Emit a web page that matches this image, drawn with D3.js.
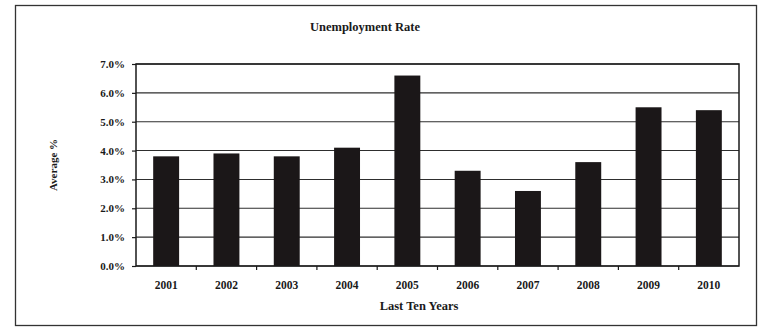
<!DOCTYPE html>
<html>
<head>
<meta charset="utf-8">
<script src="https://cdn.jsdelivr.net/npm/d3@7/dist/d3.min.js"></script>
<style>
  html, body { margin: 0; padding: 0; background: #fff; }
  svg { display: block; }
  text { font-family: "Liberation Serif", "Times New Roman", serif; font-weight: bold; fill: #1a1a1a; }
</style>
</head>
<body>
<svg id="chart" width="760" height="328"></svg>
<script>
// Annual unemployment rate, in percent
const years = ["2001", "2002", "2003", "2004", "2005", "2006", "2007", "2008", "2009", "2010"];
const rates = [3.8, 3.9, 3.8, 4.1, 6.6, 3.3, 2.6, 3.6, 5.5, 5.4];
const yTicks = [0, 1, 2, 3, 4, 5, 6, 7];

const title = "Unemployment Rate";
const xTitle = "Last Ten Years";
const yTitle = "Average %";

const svg = d3.select("#chart");
const plot = { left: 136, right: 739, top: 64, bottom: 266 };

// outer frame
svg.append("rect")
  .attr("x", 15.5).attr("y", 5.5)
  .attr("width", 741).attr("height", 320)
  .attr("fill", "#fff")
  .attr("stroke", "#333").attr("stroke-width", 1.3);

const x = d3.scaleBand()
  .domain(years)
  .range([plot.left, plot.right])
  .paddingInner(0.57)
  .paddingOuter(0.285);

const y = d3.scaleLinear()
  .domain([0, 7])
  .range([plot.bottom, plot.top]);

// horizontal gridlines
svg.append("g")
  .selectAll("line")
  .data(yTicks)
  .join("line")
  .attr("x1", plot.left).attr("x2", plot.right)
  .attr("y1", d => y(d)).attr("y2", d => y(d))
  .attr("stroke", "#2e2e2e").attr("stroke-width", 1.1);

// bars
svg.append("g")
  .selectAll("rect")
  .data(rates)
  .join("rect")
  .attr("x", (d, i) => x(years[i]))
  .attr("y", d => y(d))
  .attr("width", x.bandwidth())
  .attr("height", d => y(0) - y(d))
  .attr("fill", "#1b1718");

// plot border
svg.append("rect")
  .attr("x", plot.left).attr("y", plot.top)
  .attr("width", plot.right - plot.left).attr("height", plot.bottom - plot.top)
  .attr("fill", "none")
  .attr("stroke", "#1a1a1a").attr("stroke-width", 1.5);

// y axis
const yAxis = d3.axisLeft(y)
  .tickValues(yTicks)
  .tickSize(4)
  .tickPadding(7)
  .tickFormat(d => d3.format(".1f")(d) + "%");
svg.append("g")
  .attr("transform", `translate(${plot.left},0)`)
  .call(yAxis)
  .call(g => g.select(".domain").remove())
  .call(g => g.selectAll("line").attr("stroke", "#1a1a1a").attr("stroke-width", 1.2))
  .call(g => g.selectAll("text").attr("font-size", 11).attr("font-family", null).attr("fill", null));

// x axis: category labels, ticks on band boundaries
const xAxis = d3.axisBottom(x).tickSize(0).tickPadding(15);
svg.append("g")
  .attr("transform", `translate(0,${plot.bottom})`)
  .call(xAxis)
  .call(g => g.select(".domain").remove())
  .call(g => g.selectAll("text").attr("font-size", 11.5).attr("font-family", null).attr("fill", null));

const boundaries = years.slice(1).map(d => x(d) - x.step() * x.paddingInner() / 2);
svg.append("g")
  .selectAll("line")
  .data(boundaries)
  .join("line")
  .attr("x1", d => d).attr("x2", d => d)
  .attr("y1", plot.bottom).attr("y2", plot.bottom + 4)
  .attr("stroke", "#1a1a1a").attr("stroke-width", 1.2);

// titles
svg.append("text")
  .attr("x", 365).attr("y", 31)
  .attr("text-anchor", "middle")
  .attr("font-size", 12.5)
  .text(title);

svg.append("text")
  .attr("x", 419).attr("y", 310)
  .attr("text-anchor", "middle")
  .attr("font-size", 12.5)
  .text(xTitle);

svg.append("text")
  .attr("transform", "translate(54,165) rotate(-90)")
  .attr("text-anchor", "middle")
  .attr("dominant-baseline", "middle")
  .attr("font-size", 11)
  .text(yTitle);
</script>
</body>
</html>
